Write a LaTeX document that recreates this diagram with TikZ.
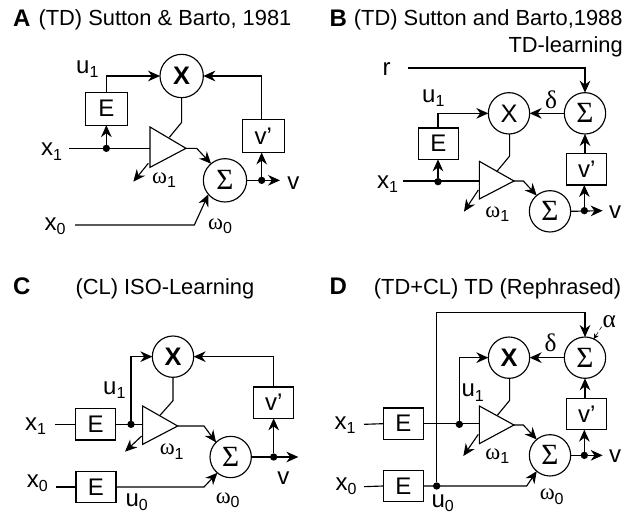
\documentclass[tikz,border=0pt]{standalone}
\usepackage{fontspec}
\setmainfont{Liberation Sans}
\newfontfamily\gk{Liberation Serif}
\usetikzlibrary{arrows.meta}
\tikzset{
  circ/.style={circle,draw,minimum size=31pt,inner sep=0pt,outer sep=0pt,font=\fontsize{19}{19}\selectfont},
  boxe/.style={rectangle,draw,minimum width=30pt,minimum height=23.5pt,inner sep=0pt,outer sep=0pt,font=\fontsize{18}{18}\selectfont},
  dotn/.style={circle,fill,minimum size=5.5pt,inner sep=0pt,outer sep=0pt},
  lab/.style={inner sep=0pt,font=\fontsize{18}{18}\selectfont},
  gre/.style={inner sep=0pt,font=\fontsize{17}{17}\gk},
  gro/.style={inner sep=0pt,font=\fontsize{19}{19}\gk},
  titre/.style={inner sep=0pt,anchor=base west,font=\fontsize{16.4}{18}\selectfont},
  lettre/.style={inner sep=0pt,anchor=base west,font=\fontsize{18}{18}\selectfont\bfseries},
}
\newcommand{\sig}{{\gk\fontsize{22}{22}\selectfont Σ}}
\newcommand{\ind}[1]{\raisebox{-3.2pt}{\fontsize{12}{12}\selectfont\rmfamily #1}}
\begin{document}
\begin{tikzpicture}[x=0.25pt,y=-0.25pt,line width=0.85pt,>={Stealth[length=9pt,width=8pt]}]
  \useasboundingbox (0,0) rectangle (1905,1539);
  % A
  \begin{scope}[circ/.append style={minimum size=32.5pt},boxe/.append style={minimum width=31.5pt,minimum height=24.75pt}]
    \node[lettre] (atitle) at (38,80) {A};
    \node[titre] (atext) at (114,78) {(TD) Sutton \& Barto, 1981};
    \node[circ] (aX) at (545,228) {\textbf{X}};
    \node[circ] (aS) at (675,541) {\sig};
    \node[boxe] (aE) at (319,326) {E};
    \node[boxe] (avp) at (790,408) {v'};
    \node[dotn] (ad) at (319,445) {};
    \node[dotn] (adv) at (785,541) {};
    \coordinate (at1) at (450,381);
    \coordinate (at2) at (450,502);
    \coordinate (at3) at (558,445);
    \coordinate (axin) at (207,445);
    \coordinate (aout) at (840,541);
    \coordinate (azin) at (225,675);
    \coordinate (aback) at (400,545);
    \draw (at1) -- (at2) -- (at3) -- cycle;
    \draw (axin) -- (ad) -- (at1 |- ad);
    \draw[->] (ad) -- (aE.south);
    \draw[->] (aE.north) |- (aX.west);
    \draw (aX.south) -- ++(0,74) -- (508,412);
    \draw[->] (at3) -- ++(32,0) -- (aS.130);
    \draw[->] (445,490) -- (aback);
    \draw[->] (aS.east) -- (aout);
    \draw[->] (adv) -- (avp.south -| adv);
    \draw[->] (avp.north -| adv) |- (aX.east);
    \draw[->] (azin) -- (583,675) -- (aS.-140);
    \node[lab] (ax1) at (155,455) {x\ind{1}};
    \node[lab] (ax0) at (165,678) {x\ind{0}};
    \node[lab] (au1) at (262,208) {u\ind{1}};
    \node[lab] (av) at (880,548) {v};
    \node[gre] (aw1) at (492,540) {ω\ind{1}};
    \node[gre] (aw0) at (660,678) {ω\ind{0}};
  \end{scope}
  % B
  \begin{scope}[shift={(960,0)}]
    \node[lettre] (btitle) at (27,80) {B};
    \node[titre] (btext) at (100,78) {(TD) Sutton and Barto,1988};
    \node[titre,anchor=base east] (btext2) at (910,158) {TD-learning};
    \node[circ] (bX) at (567,340) {X};
    \node[circ] (bS) at (795,340) {\sig};
    \node[circ] (bS2) at (690,634) {\sig};
    \node[boxe] (bE) at (355,431) {E};
    \node[boxe] (bvp) at (800,508) {v'};
    \node[dotn] (bd) at (354,545) {};
    \node[dotn] (bdv) at (793,632) {};
    \coordinate (bt1) at (478,484);
    \coordinate (bt2) at (478,597);
    \coordinate (bt3) at (582,543);
    \coordinate (bxin) at (250,543);
    \coordinate (brin) at (263,204);
    \coordinate (bout) at (848,632);
    \draw (bt1) -- (bt2) -- (bt3) -- cycle;
    \draw (bxin) -- (bt1 |- bxin);
    \draw[->] (bd) -- (bE.south -| bd);
    \draw[->] (bE.north -| bd) |- (bX.west);
    \draw[->] (brin) -| (bS.north);
    \draw[->] (bS.west) -- (bX.east);
    \draw[->] (bvp.north -| bS) -- (bS.south);
    \draw (bX.south) ++(2,0) -- ++(0,66) -- (530,515);
    \draw[->] (bt3) -- ++(28,0) -- (bS2.130);
    \draw[->] (475,570) -- (432,635);
    \draw[->] (bS2.east) -- (bout);
    \draw[->] (bdv) -- (bvp.south -| bdv);
    \node[lab] (bx1) at (203,553) {x\ind{1}};
    \node[lab] (br) at (200,208) {r};
    \node[lab] (bu1) at (340,295) {u\ind{1}};
    \node[lab] (bv) at (885,637) {v};
    \node[gro] (bdelta) at (693,300) {δ};
    \node[gre] (bw1) at (532,642) {ω\ind{1}};
  \end{scope}
  % C
  \begin{scope}[shift={(0,768)}]
    \node[lettre] (ctitle) at (38,114) {C};
    \node[titre] (ctext) at (225,114) {(CL) ISO-Learning};
    \node[circ] (cX) at (519,302) {\textbf{X}};
    \node[circ] (cS) at (692,603) {\sig};
    \node[boxe] (cE) at (287,505) {E};
    \node[boxe] (cE0) at (288,693) {E};
    \node[boxe] (cvp) at (821,440) {v'};
    \node[dotn] (cd) at (393,505) {};
    \node[dotn] (cdv) at (821,603) {};
    \coordinate (ct1) at (428,450);
    \coordinate (ct2) at (428,565);
    \coordinate (ct3) at (533,510);
    \coordinate (cxin) at (165,505);
    \coordinate (czin) at (168,693);
    \coordinate (cout) at (895,603);
    \draw (ct1) -- (ct2) -- (ct3) -- cycle;
    \draw (cxin) -- (cE.west);
    \draw (czin) -- (cE0.west);
    \draw (cE.east) -- (ct1 |- cE.east);
    \draw[->] (cd) |- (cX.west);
    \draw (cX.south) -- ++(0,70) -- (480,478);
    \draw[->] (ct3) -- (612,510) -- (cS.135);
    \draw[->] (425,540) -- (375,587);
    \draw[->] (cS.east) -- (cout);
    \draw[->] (cdv) -- (cvp.south);
    \draw[->] (cvp.north) |- (cX.east);
    \draw[->] (cE0.east) -- (612,693) -- (cS.-130);
    \node[lab] (cx1) at (107,510) {x\ind{1}};
    \node[lab] (cx0) at (112,682) {x\ind{0}};
    \node[lab] (cu1) at (343,402) {u\ind{1}};
    \node[lab] (cu0) at (410,738) {u\ind{0}};
    \node[lab] (cv) at (850,665) {v};
    \node[gre] (cw1) at (515,587) {ω\ind{1}};
    \node[gre] (cw0) at (683,732) {ω\ind{0}};
  \end{scope}
  % D
  \begin{scope}[shift={(960,768)}]
    \node[lettre] (dtitle) at (27,114) {D};
    \node[titre] (dtext) at (160,114) {(TD+CL) TD (Rephrased)};
    \node[circ] (dX) at (567,305) {\textbf{X}};
    \node[circ] (dS) at (795,305) {\sig};
    \node[circ] (dS2) at (690,598) {\sig};
    \node[boxe] (dE) at (250,503) {E};
    \node[boxe] (dE0) at (250,690) {E};
    \node[boxe] (dvp) at (800,474) {v'};
    \node[dotn] (dd) at (418,505) {};
    \node[dotn] (dd0) at (350,690) {};
    \node[dotn] (ddv) at (793,598) {};
    \coordinate (dt1) at (478,450);
    \coordinate (dt2) at (478,563);
    \coordinate (dt3) at (582,507);
    \coordinate (dxin) at (132,505);
    \coordinate (dzin) at (132,692);
    \coordinate (dout) at (848,598);
    \coordinate (dalpha) at (845,212);
    \draw (dt1) -- (dt2) -- (dt3) -- cycle;
    \draw (dxin) -- (dE.west);
    \draw (dzin) -- (dE0.west);
    \draw (dE.east) -- (dt1 |- dE.east);
    \draw[->] (dd) |- (dX.west);
    \draw[->] (dd0) |- (795,170) -- (dS.north);
    \draw[->,line width=0.4pt,densely dashed,>={Stealth[length=4pt,width=4pt]}] (dalpha) -- (dS.65);
    \draw[->] (dS.west) -- (dX.east);
    \draw[->] (dvp.north -| dS) -- (dS.south);
    \draw (dX.south) ++(2,0) -- ++(0,66) -- (532,478);
    \draw[->] (dt3) -- ++(28,0) -- (dS2.130);
    \draw[->] (475,535) -- (430,600);
    \draw[->] (dS2.east) -- (dout);
    \draw[->] (ddv) -- (dvp.south -| ddv);
    \draw[->] (dE0.east) -- (620,690) -- (dS2.-130);
    \node[lab] (dx1) at (75,508) {x\ind{1}};
    \node[lab] (dx0) at (78,690) {x\ind{0}};
    \node[lab] (du1) at (458,410) {u\ind{1}};
    \node[lab] (du0) at (368,741) {u\ind{0}};
    \node[lab] (dv) at (885,600) {v};
    \node[gro] (dalph) at (868,198) {α};
    \node[gro] (ddelta) at (692,260) {δ};
    \node[gre] (dw1) at (532,600) {ω\ind{1}};
    \node[gre] (dw0) at (695,722) {ω\ind{0}};
  \end{scope}
\end{tikzpicture}
\end{document}
